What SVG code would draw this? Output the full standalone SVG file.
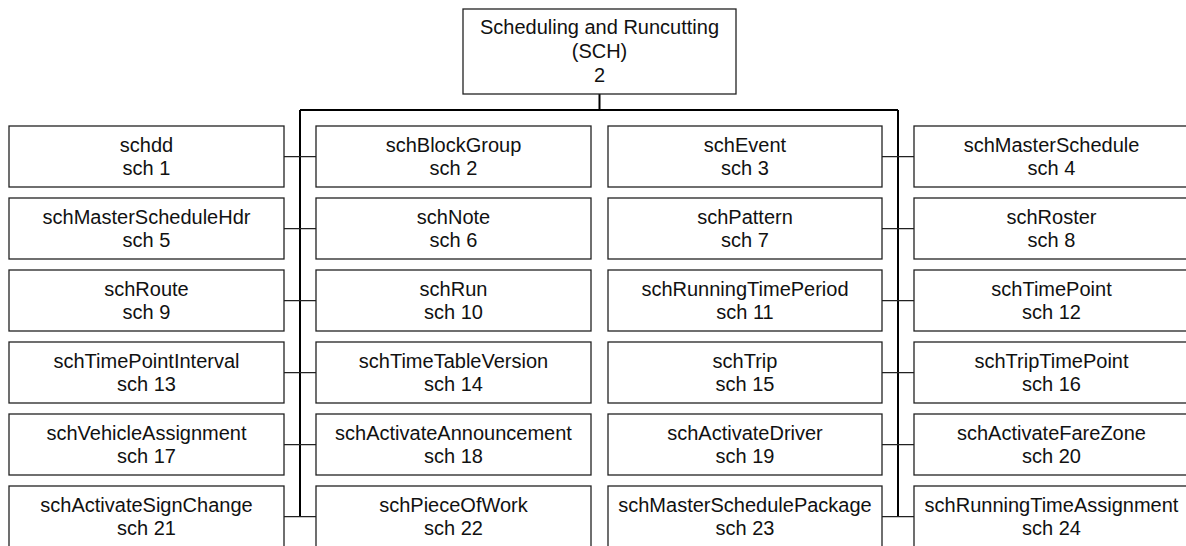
<svg xmlns="http://www.w3.org/2000/svg" width="1186" height="546" viewBox="0 0 1186 546">
<style>
.box{fill:#fff;stroke:#222;stroke-width:1.3}
.t{font-family:"Liberation Sans",Arial,sans-serif;font-size:20px;fill:#111;text-anchor:middle}
.bus{stroke:#000;stroke-width:2;fill:none}
.c{stroke:#222;stroke-width:1.3;fill:none}
</style>
<rect width="1186" height="546" fill="#fff"/>
<g id="connectors">
<path class="bus" d="M599.5 94V110M300 110H898M300 110V517M898 110V517"/>
<path class="c" d="M284 156.7H316M284 228.7H316M284 300.7H316M284 372.7H316M284 444.7H316M284 516.7H316M882 156.7H914M882 228.7H914M882 300.7H914M882 372.7H914M882 444.7H914M882 516.7H914"/>
</g>
<g id="root"><rect class="box" x="463" y="9" width="273" height="85"/><text class="t" x="599.5" y="34.3">Scheduling and Runcutting<tspan x="599.5" dy="23.7">(SCH)</tspan><tspan x="599.5" dy="23.7">2</tspan></text></g>
<g id="n1"><rect class="box" x="9" y="126" width="275" height="61"/><text class="t" x="146.5" y="151.7">schdd<tspan x="146.5" dy="22.8">sch 1</tspan></text></g>
<g id="n2"><rect class="box" x="316" y="126" width="275" height="61"/><text class="t" x="453.5" y="151.7">schBlockGroup<tspan x="453.5" dy="22.8">sch 2</tspan></text></g>
<g id="n3"><rect class="box" x="608" y="126" width="274" height="61"/><text class="t" x="745" y="151.7">schEvent<tspan x="745" dy="22.8">sch 3</tspan></text></g>
<g id="n4"><rect class="box" x="914" y="126" width="275" height="61"/><text class="t" x="1051.5" y="151.7">schMasterSchedule<tspan x="1051.5" dy="22.8">sch 4</tspan></text></g>
<g id="n5"><rect class="box" x="9" y="198" width="275" height="61"/><text class="t" x="146.5" y="223.7">schMasterScheduleHdr<tspan x="146.5" dy="22.8">sch 5</tspan></text></g>
<g id="n6"><rect class="box" x="316" y="198" width="275" height="61"/><text class="t" x="453.5" y="223.7">schNote<tspan x="453.5" dy="22.8">sch 6</tspan></text></g>
<g id="n7"><rect class="box" x="608" y="198" width="274" height="61"/><text class="t" x="745" y="223.7">schPattern<tspan x="745" dy="22.8">sch 7</tspan></text></g>
<g id="n8"><rect class="box" x="914" y="198" width="275" height="61"/><text class="t" x="1051.5" y="223.7">schRoster<tspan x="1051.5" dy="22.8">sch 8</tspan></text></g>
<g id="n9"><rect class="box" x="9" y="270" width="275" height="61"/><text class="t" x="146.5" y="295.7">schRoute<tspan x="146.5" dy="22.8">sch 9</tspan></text></g>
<g id="n10"><rect class="box" x="316" y="270" width="275" height="61"/><text class="t" x="453.5" y="295.7">schRun<tspan x="453.5" dy="22.8">sch 10</tspan></text></g>
<g id="n11"><rect class="box" x="608" y="270" width="274" height="61"/><text class="t" x="745" y="295.7">schRunningTimePeriod<tspan x="745" dy="22.8">sch 11</tspan></text></g>
<g id="n12"><rect class="box" x="914" y="270" width="275" height="61"/><text class="t" x="1051.5" y="295.7">schTimePoint<tspan x="1051.5" dy="22.8">sch 12</tspan></text></g>
<g id="n13"><rect class="box" x="9" y="342" width="275" height="61"/><text class="t" x="146.5" y="367.7">schTimePointInterval<tspan x="146.5" dy="22.8">sch 13</tspan></text></g>
<g id="n14"><rect class="box" x="316" y="342" width="275" height="61"/><text class="t" x="453.5" y="367.7">schTimeTableVersion<tspan x="453.5" dy="22.8">sch 14</tspan></text></g>
<g id="n15"><rect class="box" x="608" y="342" width="274" height="61"/><text class="t" x="745" y="367.7">schTrip<tspan x="745" dy="22.8">sch 15</tspan></text></g>
<g id="n16"><rect class="box" x="914" y="342" width="275" height="61"/><text class="t" x="1051.5" y="367.7">schTripTimePoint<tspan x="1051.5" dy="22.8">sch 16</tspan></text></g>
<g id="n17"><rect class="box" x="9" y="414" width="275" height="61"/><text class="t" x="146.5" y="439.7">schVehicleAssignment<tspan x="146.5" dy="22.8">sch 17</tspan></text></g>
<g id="n18"><rect class="box" x="316" y="414" width="275" height="61"/><text class="t" x="453.5" y="439.7">schActivateAnnouncement<tspan x="453.5" dy="22.8">sch 18</tspan></text></g>
<g id="n19"><rect class="box" x="608" y="414" width="274" height="61"/><text class="t" x="745" y="439.7">schActivateDriver<tspan x="745" dy="22.8">sch 19</tspan></text></g>
<g id="n20"><rect class="box" x="914" y="414" width="275" height="61"/><text class="t" x="1051.5" y="439.7">schActivateFareZone<tspan x="1051.5" dy="22.8">sch 20</tspan></text></g>
<g id="n21"><rect class="box" x="9" y="486" width="275" height="61"/><text class="t" x="146.5" y="511.7">schActivateSignChange<tspan x="146.5" dy="22.8">sch 21</tspan></text></g>
<g id="n22"><rect class="box" x="316" y="486" width="275" height="61"/><text class="t" x="453.5" y="511.7">schPieceOfWork<tspan x="453.5" dy="22.8">sch 22</tspan></text></g>
<g id="n23"><rect class="box" x="608" y="486" width="274" height="61"/><text class="t" x="745" y="511.7">schMasterSchedulePackage<tspan x="745" dy="22.8">sch 23</tspan></text></g>
<g id="n24"><rect class="box" x="914" y="486" width="275" height="61"/><text class="t" x="1051.5" y="511.7">schRunningTimeAssignment<tspan x="1051.5" dy="22.8">sch 24</tspan></text></g>
</svg>
